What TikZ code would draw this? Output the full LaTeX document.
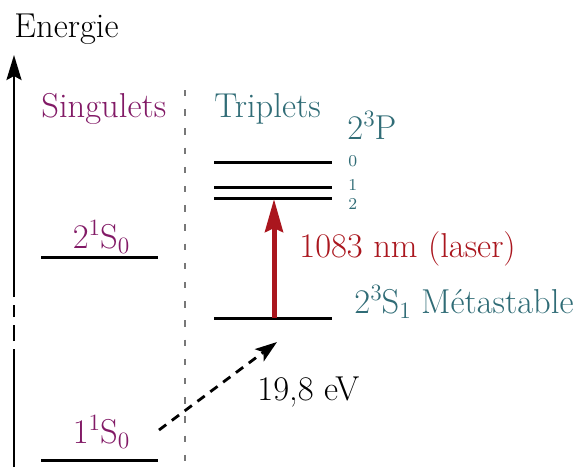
\documentclass[tikz,border=0pt]{standalone}
\usepackage{fontspec}
\usetikzlibrary{arrows.meta}
\definecolor{singcol}{RGB}{130,26,102}
\definecolor{tripcol}{RGB}{48,108,118}
\definecolor{lasercol}{RGB}{170,22,30}
\definecolor{sepcol}{RGB}{120,120,120}
\newcommand\atomlvl[4]{#1\raisebox{6.4pt}{\fontsize{11.7}{13}\selectfont #2}#3\ifx\relax#4\relax\else\raisebox{-2.9pt}{\fontsize{11.7}{13}\selectfont #4}\fi}
\tikzset{
  level/.style={line width=1.5pt, black},
  axisline/.style={line width=1.25pt, black},
  lbl/.style={inner sep=0pt, font=\fontsize{17.28}{21}\selectfont},
  sublbl/.style={inner sep=0pt, font=\fontsize{8.3}{10}\selectfont, text=tripcol},
  sing/.style={lbl, text=singcol},
  trip/.style={lbl, text=tripcol},
}
\begin{document}
\begin{tikzpicture}[x=0.5pt, y=-0.5pt]
\useasboundingbox (0,0) rectangle (576,467);
% energy axis
\coordinate (axbot) at (14,467);
\coordinate (axb1) at (14,349);
\coordinate (axd1a) at (14,341);
\coordinate (axd1b) at (14,325);
\coordinate (axd2a) at (14,317);
\coordinate (axd2b) at (14,305);
\coordinate (axtop0) at (14,297);
\coordinate (axtip) at (14,55);
\draw[axisline] (axbot) -- (axb1);
\draw[axisline] (axd1a) -- (axd1b);
\draw[axisline] (axd2a) -- (axd2b);
\draw[axisline, -{Stealth[length=12.5pt, width=7.5pt, inset=2pt]}] (axtop0) -- (axtip);
\node[lbl, anchor=base west] (energie) at (14,37) {Energie};
% separator
\coordinate (septop) at (185,90);
\coordinate (sepbot) at (185,467);
\draw[sepcol, line width=1.4pt, dash pattern=on 3.2pt off 6.4pt] (septop) -- (sepbot);
% headings
\node[sing, anchor=base west] (singulets) at (41,117) {Singulets};
\node[trip, anchor=base west] (triplets) at (214,117) {Triplets};
% singlet levels
\coordinate (s1l) at (41,460); \coordinate (s1r) at (158,460);
\coordinate (s2l) at (41,257); \coordinate (s2r) at (158,257);
\draw[level] (s1l) -- (s1r);
\draw[level] (s2l) -- (s2r);
\node[sing, anchor=base] (s1lab) at (101,443) {\atomlvl{1}{1}{S}{0}};
\node[sing, anchor=base] (s2lab) at (101,248) {\atomlvl{2}{1}{S}{0}};
% triplet levels
\coordinate (p0l) at (214,162); \coordinate (p0r) at (332,162);
\coordinate (p1l) at (214,187); \coordinate (p1r) at (332,187);
\coordinate (p2l) at (214,198); \coordinate (p2r) at (332,198);
\coordinate (t1l) at (214,318); \coordinate (t1r) at (332,318);
\draw[level] (p0l) -- (p0r);
\draw[level] (p1l) -- (p1r);
\draw[level] (p2l) -- (p2r);
\draw[level] (t1l) -- (t1r);
\node[trip, anchor=base west] (plab) at (347,139) {\atomlvl{2}{3}{P}{}};
\node[sublbl, anchor=west] (p0lab) at (348,161) {0};
\node[sublbl, anchor=west] (p1lab) at (348,185) {1};
\node[sublbl, anchor=west] (p2lab) at (348,204) {2};
\node[trip, anchor=base west] (t1lab) at (354,313) {\atomlvl{2}{3}{S}{1}\hspace{0.3em}Métastable};
% laser transition
\coordinate (lasbot) at (274,318);
\coordinate (lastop) at (274,199);
\draw[lasercol, line width=2.5pt, -{Stealth[length=16.5pt, width=9pt, inset=2pt]}] (lasbot) -- (lastop);
\node[lbl, text=lasercol, anchor=base west] (laslab) at (299,257) {1083 nm (laser)};
% excitation
\coordinate (exstart) at (159,430);
\coordinate (exend) at (277,342);
\draw[black, line width=1.4pt, dash pattern=on 4.5pt off 3.5pt, -{Stealth[length=11pt, width=7.5pt, inset=2.5pt]}] (exstart) -- (exend);
\node[lbl, anchor=base west] (evlab) at (257,400) {19,8 eV};
\end{tikzpicture}
\end{document}
